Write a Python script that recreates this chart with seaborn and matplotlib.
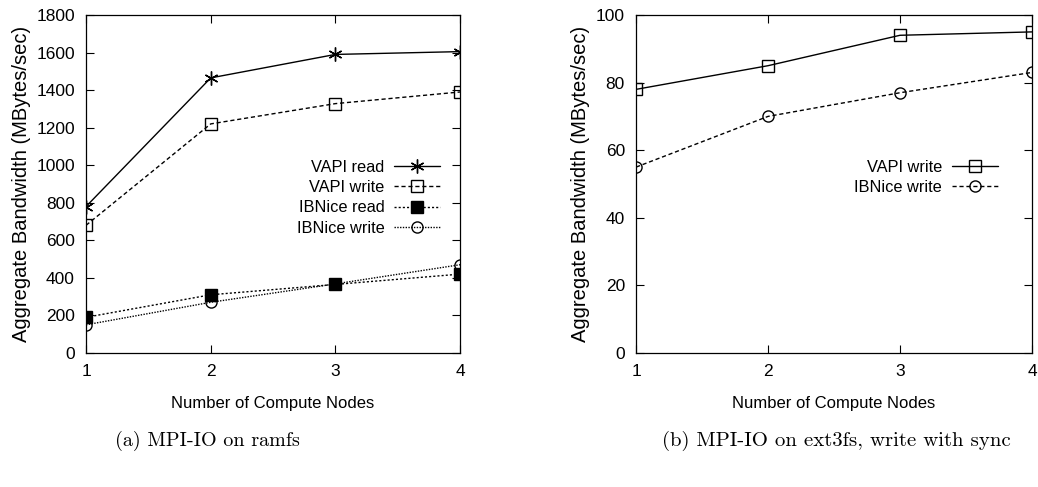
import matplotlib
matplotlib.use("Agg")
import matplotlib.pyplot as plt
import seaborn as sns
import pandas as pd

nodes = [1, 2, 3, 4]
# panel (a): MPI-IO on ramfs
vapi_read = [780, 1465, 1590, 1605]
vapi_write = [680, 1220, 1328, 1390]
ibnice_read = [190, 310, 365, 420]
ibnice_write = [150, 270, 368, 470]
# panel (b): MPI-IO on ext3fs, write with sync
vapi_write_b = [78, 85, 94, 95]
ibnice_write_b = [55, 70, 77, 83]

xlabel = "Number of Compute Nodes"
ylabel = "Aggregate Bandwidth (MBytes/sec)"
caption_a = "(a) MPI-IO on ramfs"
caption_b = "(b) MPI-IO on ext3fs, write with sync"

sns.set_theme(style="ticks")
plt.rcParams["font.family"] = ["Liberation Sans", "DejaVu Sans"]
plt.rcParams["text.color"] = "black"
plt.rcParams["axes.labelcolor"] = "black"

fig = plt.figure(figsize=(10.38, 4.87), dpi=100)
axA = fig.add_axes([0.0829, 0.2752, 0.3603, 0.694])
axB = fig.add_axes([0.6128, 0.2752, 0.3814, 0.694])

styles_a = [
    ("VAPI read", vapi_read, dict(linestyle="-", marker=(6, 2, 0), markersize=10, mfc="none", mec="black", mew=1.0)),
    ("VAPI write", vapi_write, dict(linestyle=(0, (3, 2)), marker="s", markersize=9, mfc="none", mec="black", mew=1.0)),
    ("IBNice read", ibnice_read, dict(linestyle=(0, (1.5, 1.5)), marker="s", markersize=9, mfc="black", mec="black", mew=1.0)),
    ("IBNice write", ibnice_write, dict(linestyle=(0, (1, 1)), marker="o", markersize=8, mfc="none", mec="black", mew=1.0)),
]
for name, vals, kw in styles_a:
    df = pd.DataFrame({"x": nodes, "y": vals})
    sns.lineplot(data=df, x="x", y="y", ax=axA, color="black", linewidth=1.0, label=name, **kw)

styles_b = [
    ("VAPI write", vapi_write_b, dict(linestyle="-", marker="s", markersize=9, mfc="none", mec="black", mew=1.0)),
    ("IBNice write", ibnice_write_b, dict(linestyle=(0, (3, 2)), marker="o", markersize=8, mfc="none", mec="black", mew=1.0)),
]
for name, vals, kw in styles_b:
    df = pd.DataFrame({"x": nodes, "y": vals})
    sns.lineplot(data=df, x="x", y="y", ax=axB, color="black", linewidth=1.0, label=name, **kw)

for ax, ymax, step in [(axA, 1800, 200), (axB, 100, 20)]:
    ax.set_xlim(1, 4)
    ax.set_ylim(0, ymax)
    ax.set_xticks(nodes)
    ax.set_yticks(range(0, ymax + 1, step))
    ax.tick_params(direction="in", top=True, right=True, length=6, width=0.8,
                   labelsize=12.5, colors="black", pad=8)
    for s in ax.spines.values():
        s.set_visible(True)
        s.set_color("black")
        s.set_linewidth(0.9)
    ax.set_xlabel(xlabel, fontsize=12, labelpad=12)
    ax.set_ylabel(ylabel, fontsize=14.5, labelpad=4)

for ax, xr in [(axA, 0.947), (axB, 0.914)]:
    leg = ax.legend(loc="upper right", bbox_to_anchor=(xr, 0.572), frameon=False,
                    markerfirst=False, fontsize=11.8, handlelength=2.8, handletextpad=0.6,
                    labelspacing=0.33, borderaxespad=0, borderpad=0)
    leg._legend_box.align = "right"
    for t in leg.get_texts():
        t.set_ha("right")

fig.text(0.2, 0.095, caption_a, ha="center", va="center", fontsize=14.5,
         family=["cmr10"], color="black")
fig.text(0.806, 0.095, caption_b, ha="center", va="center", fontsize=15,
         family=["cmr10"], color="black")

fig.savefig("out.png", dpi=100)
